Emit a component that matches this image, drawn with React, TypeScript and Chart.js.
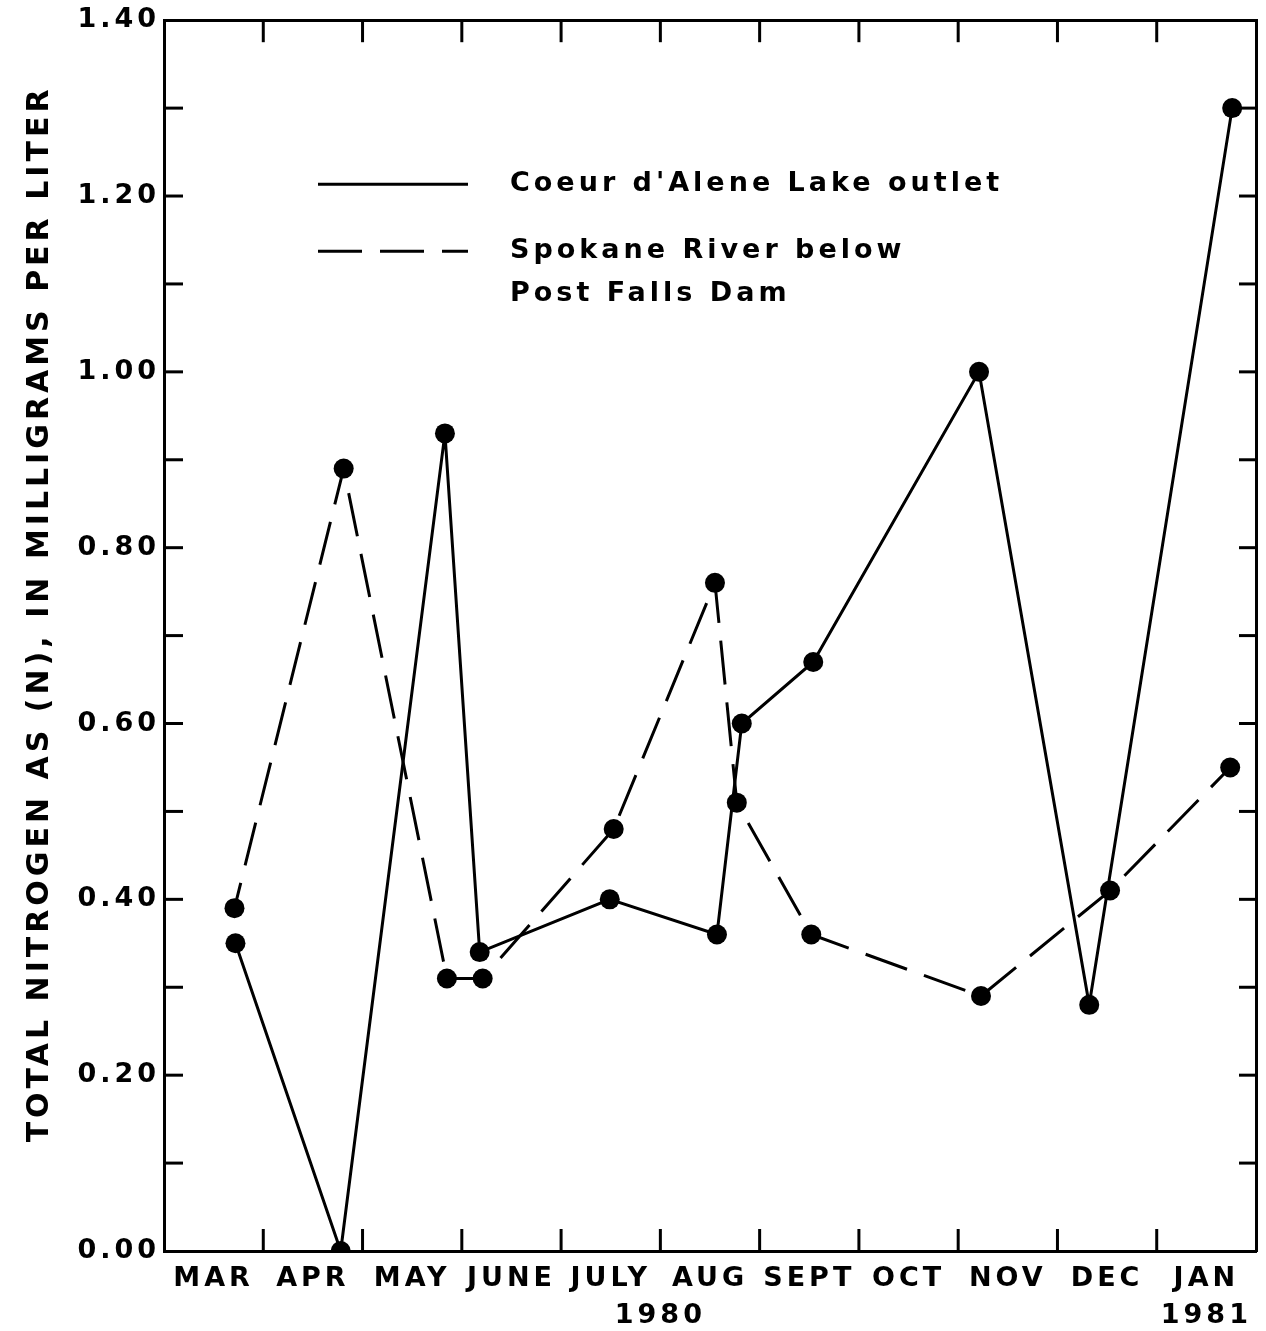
import React, { useEffect, useRef } from 'react';
import { Chart, registerables } from 'chart.js';

Chart.register(...registerables);

// Month intervals: value 0 = 1 March 1980, each unit = one month
const MONTHS = ['MAR', 'APR', 'MAY', 'JUNE', 'JULY', 'AUG', 'SEPT', 'OCT', 'NOV', 'DEC', 'JAN'];
const YEAR_TICKS = [5, 10.5];
const YEARS = ['1980', '1981'];

// Coeur d'Alene Lake outlet (solid)
const lakeX = [0.72, 1.78, 2.83, 3.18, 4.49, 5.57, 5.82, 6.54, 8.21, 9.32, 10.76];
const lakeY = [0.35, 0.0, 0.93, 0.34, 0.4, 0.36, 0.6, 0.67, 1.0, 0.28, 1.3];

// Spokane River below Post Falls Dam (dashed)
const riverX = [0.71, 1.81, 2.85, 3.21, 4.53, 5.55, 5.77, 6.52, 8.23, 9.53, 10.74];
const riverY = [0.39, 0.89, 0.31, 0.31, 0.48, 0.76, 0.51, 0.36, 0.29, 0.41, 0.55];

const Y_LABEL = '   TOTAL NITROGEN AS (N), IN MILLIGRAMS PER LITER';
const LEGEND_LAKE = ["Coeur d'Alene Lake outlet"];
const LEGEND_RIVER = ['Spokane River below', 'Post Falls Dam'];

const FONT = 'DejaVu Sans';
const SPACING = '4px';

const spacingPlugin = {
  id: 'spacing',
  beforeUpdate(chart: any) { chart.ctx.letterSpacing = SPACING; },
  beforeLayout(chart: any) { chart.ctx.letterSpacing = SPACING; },
  beforeDraw(chart: any) { chart.ctx.letterSpacing = SPACING; },
};

const inwardTicks = {
  id: 'inwardTicks',
  afterDatasetsDraw(chart: any) {
    const { ctx, chartArea, scales } = chart;
    const { left, right, top, bottom } = chartArea;
    const x = scales.x;
    const y = scales.y;
    ctx.save();
    ctx.strokeStyle = '#000';
    ctx.lineWidth = 3;
    const line = (a: number, b: number, c: number, d: number) => {
      ctx.beginPath();
      ctx.moveTo(a, b);
      ctx.lineTo(c, d);
      ctx.stroke();
    };
    x.ticks.forEach((t: any) => {
      const v = t.value;
      if (Math.abs(v - Math.round(v)) < 1e-6 && v > x.min && v < x.max) {
        const px = x.getPixelForValue(v);
        line(px, bottom, px, bottom - 22);
        line(px, top, px, top + 22);
      }
    });
    y.ticks.forEach((t: any) => {
      const v = t.value;
      if (v > y.min + 1e-6 && v < y.max - 1e-6) {
        const py = y.getPixelForValue(v);
        line(left, py, left + 19, py);
        line(right, py, right - 17, py);
      }
    });
    ctx.restore();
  },
};

const legendPlugin = {
  id: 'customLegend',
  afterDatasetsDraw(chart: any) {
    const { ctx, chartArea } = chart;
    const ds = chart.data.datasets;
    const x0 = chartArea.left + 154;
    const x1 = chartArea.left + 304;
    const tx = chartArea.left + 346;
    const rows = [
      { y: chartArea.top + 164, lines: LEGEND_LAKE, d: ds[0] },
      { y: chartArea.top + 231, lines: LEGEND_RIVER, d: ds[1] },
    ];
    ctx.save();
    ctx.letterSpacing = '4px';
    ctx.font = `bold 27px ${FONT}`;
    ctx.fillStyle = '#000';
    ctx.textBaseline = 'middle';
    ctx.textAlign = 'left';
    rows.forEach((r) => {
      ctx.strokeStyle = r.d.borderColor;
      ctx.lineWidth = r.d.borderWidth;
      ctx.setLineDash(r.d.borderDash || []);
      ctx.beginPath();
      ctx.moveTo(x0, r.y);
      ctx.lineTo(x1, r.y);
      ctx.stroke();
      r.lines.forEach((s, i) => ctx.fillText(s, tx, r.y + i * 43));
    });
    ctx.restore();
  },
};

export default function App() {
  const ref = useRef<HTMLCanvasElement | null>(null);

  useEffect(() => {
    if (!ref.current) return;
    Chart.defaults.font.family = FONT;
    Chart.defaults.color = '#000';
    const chart = new Chart(ref.current, {
      type: 'line',
      data: {
        datasets: [
          {
            label: LEGEND_LAKE.join(' '),
            data: lakeX.map((x, i) => ({ x, y: lakeY[i] })),
            borderColor: '#000',
            backgroundColor: '#000',
            borderWidth: 3,
            pointRadius: 10,
            pointBorderWidth: 0,
            pointBackgroundColor: '#000',
            tension: 0,
          },
          {
            label: LEGEND_RIVER.join(' '),
            data: riverX.map((x, i) => ({ x, y: riverY[i] })),
            borderColor: '#000',
            backgroundColor: '#000',
            borderWidth: 3,
            borderDash: [44, 18],
            borderDashOffset: 18,
            pointRadius: 10,
            pointBorderWidth: 0,
            pointBackgroundColor: '#000',
            tension: 0,
          },
        ],
      },
      options: {
        animation: false,
        responsive: true,
        maintainAspectRatio: false,
        layout: { padding: 0 },
        plugins: {
          legend: { display: false },
          tooltip: { enabled: false },
        },
        scales: {
          x: {
            type: 'linear',
            position: 'bottom',
            min: 0,
            max: 11,
            afterFit: (s: any) => { s.height = 80; },
            grid: { display: false, drawTicks: false },
            border: { display: true, width: 3, color: '#000' },
            ticks: {
              stepSize: 0.5,
              autoSkip: false,
              maxRotation: 0,
              minRotation: 0,
              padding: 9,
              font: { size: 27, family: FONT, weight: 'bold', lineHeight: 1.37 },
              color: '#000',
              callback: (value: any) => {
                const v = Number(value);
                const yi = YEAR_TICKS.indexOf(v);
                const isHalf = Math.abs((v % 1) - 0.5) < 1e-6;
                if (isHalf) {
                  const m = MONTHS[Math.floor(v)];
                  return yi >= 0 ? [m, YEARS[yi]] : m;
                }
                if (yi >= 0) return ['', YEARS[yi]];
                return '';
              },
            },
          },
          x2: {
            type: 'linear',
            position: 'top',
            min: 0,
            max: 11,
            afterFit: (s: any) => { s.height = 19.5; },
            grid: { display: false, drawTicks: false },
            border: { display: true, width: 3, color: '#000' },
            ticks: { display: false },
          },
          y: {
            type: 'linear',
            position: 'left',
            min: 0,
            max: 1.4,
            afterFit: (s: any) => { s.width = 164; },
            grid: { display: false, drawTicks: false },
            border: { display: true, width: 3, color: '#000' },
            ticks: {
              stepSize: 0.1,
              autoSkip: false,
              padding: 4,
              font: { size: 27, family: FONT, weight: 'bold' },
              color: '#000',
              callback: (value: any) => {
                const v = Number(value);
                return Math.round(v * 10) % 2 === 0 ? v.toFixed(2) : '';
              },
            },
            title: {
              display: true,
              text: Y_LABEL,
              color: '#000',
              font: { size: 30, family: FONT, weight: 'bold' },
              padding: { top: 22, bottom: 0 },
            },
          },
          y2: {
            type: 'linear',
            position: 'right',
            min: 0,
            max: 1.4,
            afterFit: (s: any) => { s.width = 8; },
            grid: { display: false, drawTicks: false },
            border: { display: true, width: 3, color: '#000' },
            ticks: { display: false, stepSize: 0.1 },
          },
        },
      },
      plugins: [spacingPlugin, inwardTicks, legendPlugin],
    } as any);
    return () => chart.destroy();
  }, []);

  return (
    <div style={{ position: 'absolute', left: 0, top: 0, width: 1266, height: 1331, background: '#fff' }}>
      <canvas ref={ref} />
    </div>
  );
}
